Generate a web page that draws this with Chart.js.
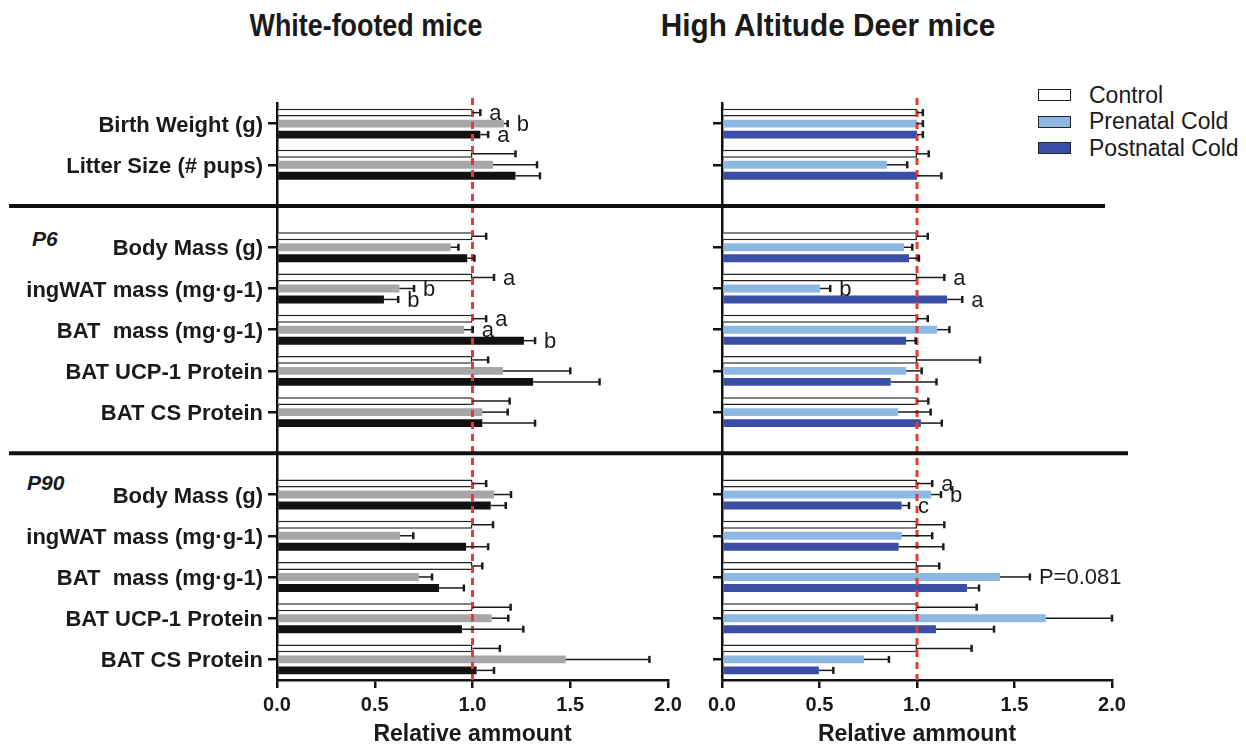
<!DOCTYPE html>
<html>
<head>
<meta charset="utf-8">
<script src="https://cdn.jsdelivr.net/npm/chart.js@4.4.1/dist/chart.umd.min.js"></script>
<style>
    html, body { margin: 0; padding: 0; background: #fff; }
    body { width: 1246px; height: 749px; position: relative; overflow: hidden; font-family: 'Liberation Sans', Arial, sans-serif; color: #1a1a1a; }
    canvas { position: absolute; top: 0; }
    #whiteChart { left: 0; }
    #deerChart { left: 700px; }
    .title { position: absolute; top: 9px; font: bold 32px/1 'Liberation Sans', Arial, sans-serif; white-space: nowrap; }
    .age { position: absolute; font: italic bold 21px/1 'Liberation Sans', Arial, sans-serif; }
    .legend { position: absolute; left: 1038px; top: 82px; font-size: 23px; }
    .legend div { height: 26.5px; display: flex; align-items: center; white-space: nowrap; }
    .legend .box { width: 31px; height: 10px; border: 1px solid #222; margin-right: 18px; }
</style>
</head>
<body>
<div class="title" style="left: 366px; transform: translateX(-50%) scaleX(0.84);">White-footed mice</div>
<div class="title" style="left: 828px; transform: translateX(-50%) scaleX(0.93);">High Altitude Deer mice</div>
<div class="age" style="left: 32px; top: 228px;">P6</div>
<div class="age" style="left: 27px; top: 472px;">P90</div>
<div class="legend">
    <div><span class="box" style="background: #ffffff;"></span>Control</div>
    <div><span class="box" style="background: #8db8e2;"></span>Prenatal Cold</div>
    <div><span class="box" style="background: #3b4ea6;"></span>Postnatal Cold</div>
</div>
<canvas id="whiteChart" width="700" height="749"></canvas>
<canvas id="deerChart" width="546" height="749"></canvas>
<script>
// '' marks the empty rows where the section dividers run
const categories = [
    'Birth Weight (g)', 'Litter Size (# pups)', '',
    'Body Mass (g)', 'ingWAT mass (mg·g-1)', 'BAT  mass (mg·g-1)', 'BAT UCP-1 Protein', 'BAT CS Protein', '',
    'Body Mass (g)', 'ingWAT mass (mg·g-1)', 'BAT  mass (mg·g-1)', 'BAT UCP-1 Protein', 'BAT CS Protein'
];
const groupNames = ['Control', 'Prenatal Cold', 'Postnatal Cold'];
const xTicks = [0, 0.5, 1, 1.5, 2];

// White-footed mice
const whiteControl = [1, 1, null, 1, 1, 1, 1, 1, null, 1, 1, 1, 1, 1];
const whiteControlErr = [0.04, 0.22, null, 0.07, 0.11, 0.07, 0.08, 0.19, null, 0.07, 0.105, 0.05, 0.195, 0.14];
const whitePrenatal = [1.16, 1.105, null, 0.888, 0.626, 0.956, 1.155, 1.05, null, 1.11, 0.629, 0.726, 1.098, 1.477];
const whitePrenatalErr = [0.02, 0.225, null, 0.04, 0.075, 0.045, 0.345, 0.13, null, 0.087, 0.068, 0.067, 0.085, 0.428];
const whitePostnatal = [1.04, 1.22, null, 0.973, 0.547, 1.263, 1.31, 1.05, null, 1.093, 0.967, 0.829, 0.946, 1.021];
const whitePostnatalErr = [0.04, 0.125, null, 0.037, 0.073, 0.057, 0.34, 0.27, null, 0.077, 0.113, 0.127, 0.314, 0.089];
const whiteControlNotes = ['a', '', '', '', 'a', 'a', '', '', '', '', '', '', '', ''];
const whitePrenatalNotes = ['b', '', '', '', 'b', 'a', '', '', '', '', '', '', '', ''];
const whitePostnatalNotes = ['a', '', '', '', 'b', 'b', '', '', '', '', '', '', '', ''];

// High altitude deer mice
const deerControl = [1, 1, null, 1, 1, 1, 1, 1, null, 1, 1, 1, 1, 1];
const deerControlErr = [0.03, 0.06, null, 0.055, 0.14, 0.055, 0.323, 0.058, null, 0.078, 0.14, 0.114, 0.306, 0.28];
const deerPrenatal = [1.0, 0.845, null, 0.933, 0.503, 1.103, 0.944, 0.903, null, 1.072, 0.921, 1.426, 1.66, 0.728];
const deerPrenatalErr = [0.03, 0.105, null, 0.043, 0.052, 0.063, 0.08, 0.167, null, 0.051, 0.157, 0.153, 0.34, 0.128];
const deerPostnatal = [1.0, 1.0, null, 0.959, 1.154, 0.944, 0.865, 1.02, null, 0.921, 0.906, 1.256, 1.097, 0.497];
const deerPostnatalErr = [0.03, 0.125, null, 0.051, 0.078, 0.049, 0.235, 0.107, null, 0.038, 0.229, 0.062, 0.298, 0.074];
const deerControlNotes = ['', '', '', '', 'a', '', '', '', '', 'a', '', '', '', ''];
const deerPrenatalNotes = ['', '', '', '', 'b', '', '', '', '', 'b', '', 'P=0.081', '', ''];
const deerPostnatalNotes = ['', '', '', '', 'a', '', '', '', '', 'c', '', '', '', ''];

const FONT = "'Liberation Sans', Arial, sans-serif";
const INK = '#1a1a1a';

function makeDataset(label, values, errors, notes, fill, outlined) {
    return {
        label,
        data: values,
        errors,
        notes,
        backgroundColor: fill,
        borderColor: '#222',
        borderWidth: outlined ? 1.5 : 0,
        borderSkipped: 'start',
        barPercentage: 0.72,
        categoryPercentage: 0.8
    };
}

const referenceLine = {
    id: 'referenceLine',
    afterDatasetsDraw(chart) {
        const { ctx, chartArea } = chart;
        const x = chart.scales.x.getPixelForValue(1);
        ctx.save();
        ctx.strokeStyle = '#e63a2e';
        ctx.lineWidth = 3;
        ctx.setLineDash([7, 5]);
        ctx.beginPath();
        ctx.moveTo(x, chartArea.top - 5);
        ctx.lineTo(x, chartArea.bottom);
        ctx.stroke();
        ctx.restore();
    }
};

const errorBars = {
    id: 'errorBars',
    afterDatasetsDraw(chart) {
        const { ctx } = chart;
        const xScale = chart.scales.x;
        ctx.save();
        ctx.strokeStyle = INK;
        ctx.fillStyle = INK;
        ctx.font = `22px ${FONT}`;
        ctx.textAlign = 'left';
        ctx.textBaseline = 'middle';
        chart.data.datasets.forEach((dataset, i) => {
            const meta = chart.getDatasetMeta(i);
            meta.data.forEach((bar, j) => {
                const value = dataset.data[j];
                if (value === null) {
                    return;
                }
                const end = xScale.getPixelForValue(value + dataset.errors[j]);
                ctx.lineWidth = 1.5;
                ctx.beginPath();
                ctx.moveTo(bar.x, bar.y);
                ctx.lineTo(end, bar.y);
                ctx.stroke();
                ctx.lineWidth = 2.5;
                ctx.beginPath();
                ctx.moveTo(end, bar.y - 3.5);
                ctx.lineTo(end, bar.y + 3.5);
                ctx.stroke();
                const note = dataset.notes[j];
                if (note) {
                    ctx.fillText(note, end + 9, bar.y + 1);
                }
            });
        });
        ctx.restore();
    }
};

const separators = {
    id: 'separators',
    afterDraw(chart, args, opts) {
        const { ctx } = chart;
        const yScale = chart.scales.y;
        ctx.save();
        ctx.strokeStyle = '#111';
        ctx.lineWidth = 4;
        let k = 0;
        chart.data.labels.forEach((label, i) => {
            if (label !== '') {
                return;
            }
            const y = yScale.getPixelForValue(i);
            ctx.beginPath();
            ctx.moveTo(opts.from, y);
            ctx.lineTo(opts.to[k], y);
            ctx.stroke();
            k += 1;
        });
        ctx.restore();
    }
};

function createPanel(canvas, datasets, { axisWidth, rightPad, showLabels, sepFrom, sepTo }) {
    return new Chart(canvas, {
        type: 'bar',
        data: { labels: categories, datasets },
        plugins: [referenceLine, errorBars, separators],
        options: {
            indexAxis: 'y',
            responsive: false,
            animation: false,
            events: [],
            layout: { padding: { top: 103, right: rightPad, bottom: 0, left: 0 } },
            plugins: {
                legend: { display: false },
                tooltip: { enabled: false },
                separators: { from: sepFrom, to: sepTo }
            },
            scales: {
                x: {
                    min: 0,
                    max: 2,
                    afterBuildTicks: (scale) => {
                        scale.ticks = xTicks.map((value) => ({ value }));
                    },
                    ticks: {
                        callback: (value) => Number(value).toFixed(1),
                        padding: 5,
                        color: INK,
                        font: { family: FONT, size: 20, weight: 'bold' }
                    },
                    grid: { drawOnChartArea: false, tickLength: 8, lineWidth: 2.5, color: '#111' },
                    border: { color: '#111', width: 2.5 },
                    title: {
                        display: true,
                        text: 'Relative ammount',
                        color: INK,
                        font: { family: FONT, size: 23, weight: 'bold' },
                        padding: { top: 0, bottom: 1 }
                    },
                    afterFit: (scale) => { scale.height = 69; }
                },
                y: {
                    grid: {
                        drawOnChartArea: false,
                        offset: false,
                        tickLength: 9,
                        lineWidth: 2.5,
                        color: (ctx) => (categories[ctx.index] === '' ? 'rgba(0,0,0,0)' : '#111')
                    },
                    border: { color: '#111', width: 2.5 },
                    ticks: {
                        autoSkip: false,
                        padding: 5,
                        labelOffset: 2,
                        color: INK,
                        font: { family: FONT, size: 22, weight: 'bold' },
                        callback: (value, index) => (showLabels ? categories[index] : '')
                    },
                    afterFit: (scale) => { scale.width = axisWidth; }
                }
            }
        }
    });
}

createPanel(document.getElementById('whiteChart'), [
    makeDataset(groupNames[0], whiteControl, whiteControlErr, whiteControlNotes, '#ffffff', true),
    makeDataset(groupNames[1], whitePrenatal, whitePrenatalErr, whitePrenatalNotes, '#a6a6a8', false),
    makeDataset(groupNames[2], whitePostnatal, whitePostnatalErr, whitePostnatalNotes, '#111111', false)
], { axisWidth: 277, rightPad: 32, showLabels: true, sepFrom: 9, sepTo: [700, 700] });

createPanel(document.getElementById('deerChart'), [
    makeDataset(groupNames[0], deerControl, deerControlErr, deerControlNotes, '#ffffff', true),
    makeDataset(groupNames[1], deerPrenatal, deerPrenatalErr, deerPrenatalNotes, '#8db8e2', false),
    makeDataset(groupNames[2], deerPostnatal, deerPostnatalErr, deerPostnatalNotes, '#3b4ea6', false)
], { axisWidth: 22, rightPad: 134, showLabels: false, sepFrom: 0, sepTo: [405, 428] });
</script>
</body>
</html>
